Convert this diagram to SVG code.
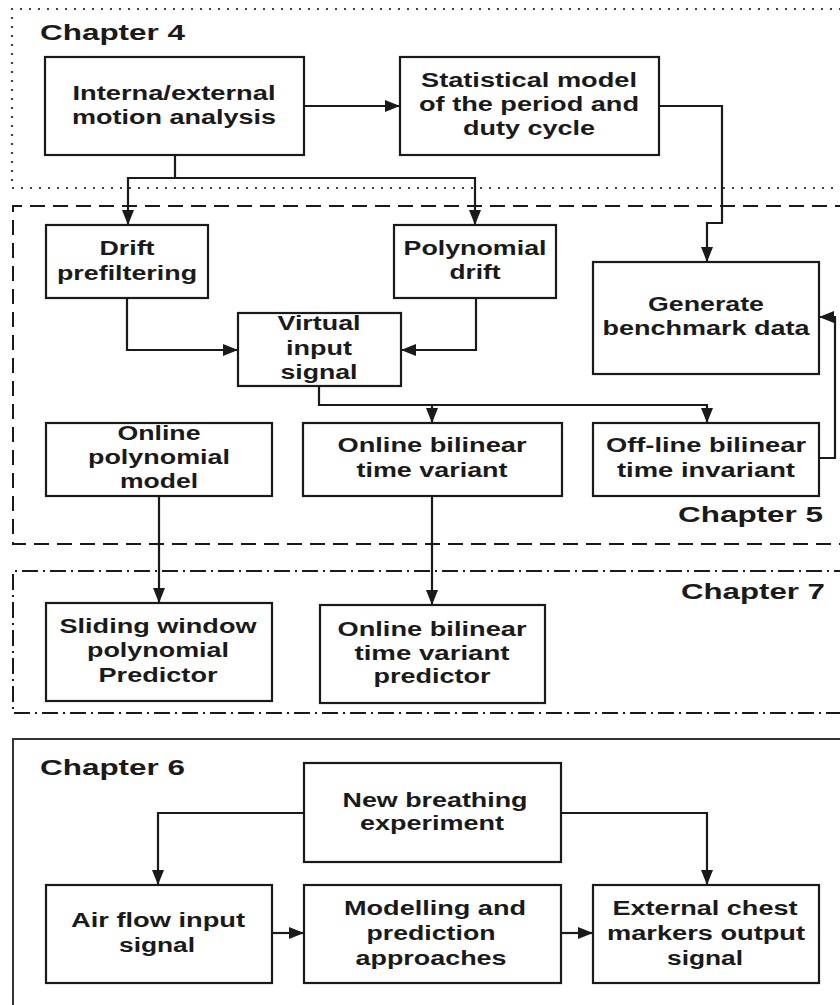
<svg xmlns="http://www.w3.org/2000/svg" width="840" height="1005" viewBox="0 0 840 1005">
<style>
.bg{fill:#ffffff}
.box{fill:#ffffff;stroke:#1a1a1a;stroke-width:2.2}
.t{font-family:"Liberation Sans",Arial,sans-serif;font-weight:bold;font-size:20px;fill:#1a1a1a;text-anchor:middle}
.ch{font-family:"Liberation Sans",Arial,sans-serif;font-weight:bold;font-size:22px;fill:#1a1a1a}
.c{fill:none;stroke:#1a1a1a;stroke-width:2.2;marker-end:url(#ah)}
</style>
<defs>
<marker id="ah" markerUnits="userSpaceOnUse" markerWidth="15" markerHeight="12" refX="15" refY="6" orient="auto">
<path d="M0,0 L15,6 L0,12 z" fill="#1a1a1a"/>
</marker>
</defs>
<rect class="bg" x="0" y="0" width="840" height="1005"/>

<g id="chapter4">
<path d="M850,9 H12 V188 H850" fill="none" stroke="#444" stroke-width="2.2" stroke-dasharray="2 7"/>
<text class="ch" x="40" y="40" textLength="145" lengthAdjust="spacingAndGlyphs">Chapter 4</text>
</g>
<g id="chapter5">
<path d="M850,206 H13 V544 H850" fill="none" stroke="#1a1a1a" stroke-width="2" stroke-dasharray="15 8"/>
<text class="ch" x="678" y="522" textLength="145" lengthAdjust="spacingAndGlyphs">Chapter 5</text>
</g>
<g id="chapter7">
<path d="M850,571 H13 V713 H850" fill="none" stroke="#1a1a1a" stroke-width="2" stroke-dasharray="16 5 2 5"/>
<text class="ch" x="681" y="599" textLength="144" lengthAdjust="spacingAndGlyphs">Chapter 7</text>
</g>
<g id="chapter6">
<path d="M850,739 H13 V1010" fill="none" stroke="#333" stroke-width="2"/>
<text class="ch" x="40" y="775" textLength="145" lengthAdjust="spacingAndGlyphs">Chapter 6</text>
</g>

<g id="connectors">
<path class="c" d="M304,106 H400"/>
<path class="c" d="M175,155 V178 H128 V225"/>
<path class="c" d="M175,178 H475 V225"/>
<path class="c" d="M659,106 H722 V223 H707 V262"/>
<path class="c" d="M127,298 V350 H238"/>
<path class="c" d="M476,298 V350 H401"/>
<path class="c" d="M319,386 V405 H432 V423"/>
<path class="c" d="M432,405 H707 V423"/>
<path class="c" d="M819,458 H835 V317 H819"/>
<path class="c" d="M159,496 V603"/>
<path class="c" d="M432,496 V605"/>
<path class="c" d="M304,813 H158 V885"/>
<path class="c" d="M561,813 H707 V885"/>
<path class="c" d="M272,933 H304"/>
<path class="c" d="M561,933 H593"/>
</g>

<g id="interna">
<rect class="box" x="45" y="57" width="259" height="98"/>
<text class="t" x="174" y="100" textLength="203" lengthAdjust="spacingAndGlyphs">Interna/external</text>
<text class="t" x="174" y="124" textLength="204" lengthAdjust="spacingAndGlyphs">motion analysis</text>
</g>
<g id="statistical">
<rect class="box" x="400" y="57" width="259" height="98"/>
<text class="t" x="529" y="87" textLength="216" lengthAdjust="spacingAndGlyphs">Statistical model</text>
<text class="t" x="529" y="111" textLength="220" lengthAdjust="spacingAndGlyphs">of the period and</text>
<text class="t" x="529" y="135" textLength="132" lengthAdjust="spacingAndGlyphs">duty cycle</text>
</g>
<g id="drift">
<rect class="box" x="46" y="225" width="162" height="73"/>
<text class="t" x="127" y="255" textLength="55" lengthAdjust="spacingAndGlyphs">Drift</text>
<text class="t" x="127" y="280" textLength="140" lengthAdjust="spacingAndGlyphs">prefiltering</text>
</g>
<g id="polydrift">
<rect class="box" x="394" y="225" width="162" height="73"/>
<text class="t" x="475" y="255" textLength="143" lengthAdjust="spacingAndGlyphs">Polynomial</text>
<text class="t" x="475" y="279" textLength="51" lengthAdjust="spacingAndGlyphs">drift</text>
</g>
<g id="virtual">
<rect class="box" x="238" y="313" width="163" height="73"/>
<text class="t" x="319" y="330" textLength="83" lengthAdjust="spacingAndGlyphs">Virtual</text>
<text class="t" x="319" y="355" textLength="66" lengthAdjust="spacingAndGlyphs">input</text>
<text class="t" x="319" y="379" textLength="77" lengthAdjust="spacingAndGlyphs">signal</text>
</g>
<g id="generate">
<rect class="box" x="593" y="262" width="226" height="112"/>
<text class="t" x="706" y="311" textLength="116" lengthAdjust="spacingAndGlyphs">Generate</text>
<text class="t" x="706" y="335" textLength="207" lengthAdjust="spacingAndGlyphs">benchmark data</text>
</g>
<g id="onlinepoly">
<rect class="box" x="46" y="423" width="226" height="73"/>
<text class="t" x="159" y="440" textLength="83" lengthAdjust="spacingAndGlyphs">Online</text>
<text class="t" x="159" y="464" textLength="142" lengthAdjust="spacingAndGlyphs">polynomial</text>
<text class="t" x="159" y="488" textLength="78" lengthAdjust="spacingAndGlyphs">model</text>
</g>
<g id="onlinebil">
<rect class="box" x="303" y="423" width="259" height="73"/>
<text class="t" x="432" y="452" textLength="189" lengthAdjust="spacingAndGlyphs">Online bilinear</text>
<text class="t" x="432" y="477" textLength="151" lengthAdjust="spacingAndGlyphs">time variant</text>
</g>
<g id="offline">
<rect class="box" x="593" y="423" width="226" height="73"/>
<text class="t" x="706" y="452" textLength="200" lengthAdjust="spacingAndGlyphs">Off-line bilinear</text>
<text class="t" x="706" y="477" textLength="178" lengthAdjust="spacingAndGlyphs">time invariant</text>
</g>
<g id="sliding">
<rect class="box" x="46" y="603" width="226" height="98"/>
<text class="t" x="158" y="633" textLength="197" lengthAdjust="spacingAndGlyphs">Sliding window</text>
<text class="t" x="158" y="657" textLength="142" lengthAdjust="spacingAndGlyphs">polynomial</text>
<text class="t" x="158" y="682" textLength="119" lengthAdjust="spacingAndGlyphs">Predictor</text>
</g>
<g id="bilpredictor">
<rect class="box" x="320" y="605" width="225" height="98"/>
<text class="t" x="432" y="636" textLength="189" lengthAdjust="spacingAndGlyphs">Online bilinear</text>
<text class="t" x="432" y="660" textLength="155" lengthAdjust="spacingAndGlyphs">time variant</text>
<text class="t" x="432" y="683" textLength="117" lengthAdjust="spacingAndGlyphs">predictor</text>
</g>
<g id="newbreathing">
<rect class="box" x="304" y="763" width="257" height="99"/>
<text class="t" x="435" y="807" textLength="185" lengthAdjust="spacingAndGlyphs">New breathing</text>
<text class="t" x="432" y="830" textLength="144" lengthAdjust="spacingAndGlyphs">experiment</text>
</g>
<g id="airflow">
<rect class="box" x="46" y="885" width="226" height="98"/>
<text class="t" x="158" y="927" textLength="174" lengthAdjust="spacingAndGlyphs">Air flow input</text>
<text class="t" x="157" y="952" textLength="76" lengthAdjust="spacingAndGlyphs">signal</text>
</g>
<g id="modelling">
<rect class="box" x="304" y="885" width="257" height="98"/>
<text class="t" x="435" y="915" textLength="182" lengthAdjust="spacingAndGlyphs">Modelling and</text>
<text class="t" x="431" y="940" textLength="129" lengthAdjust="spacingAndGlyphs">prediction</text>
<text class="t" x="431" y="965" textLength="151" lengthAdjust="spacingAndGlyphs">approaches</text>
</g>
<g id="external">
<rect class="box" x="593" y="885" width="226" height="98"/>
<text class="t" x="705" y="915" textLength="185" lengthAdjust="spacingAndGlyphs">External chest</text>
<text class="t" x="706" y="940" textLength="198" lengthAdjust="spacingAndGlyphs">markers output</text>
<text class="t" x="705" y="965" textLength="76" lengthAdjust="spacingAndGlyphs">signal</text>
</g>
</svg>
